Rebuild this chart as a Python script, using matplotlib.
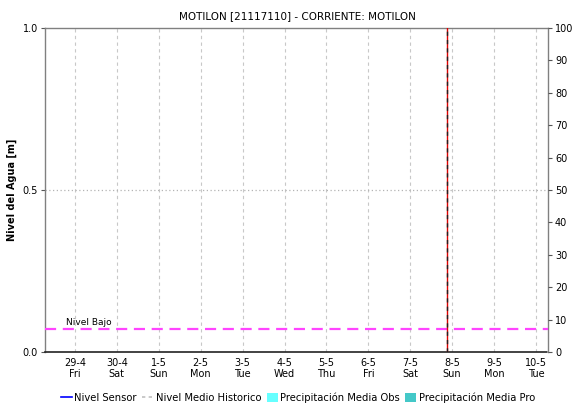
import matplotlib
matplotlib.use('Agg')
import matplotlib.pyplot as plt
from matplotlib.lines import Line2D
from matplotlib.patches import Patch

# Data (days counted from 29-4)
day_labels = ['29-4', '30-4', '1-5', '2-5', '3-5', '4-5', '5-5', '6-5', '7-5', '8-5', '9-5', '10-5']
weekday_labels = ['Fri', 'Sat', 'Sun', 'Mon', 'Tue', 'Wed', 'Thu', 'Fri', 'Sat', 'Sun', 'Mon', 'Tue']
x_start, x_end = -0.714, 11.286
nivel_bajo = 0.07
now_day = 8.87

plt.rcParams['font.family'] = ['DejaVu Sans']

fig = plt.figure(figsize=(5.72, 4.04), dpi=100)
ax = fig.add_axes([45 / 572, 52 / 404, 503 / 572, 324 / 404])

ticks = list(range(len(day_labels)))
for t in ticks:
    ax.axvline(t, color='#c8c8c8', linestyle=(0, (3, 3)), linewidth=0.8, zorder=1)
ax.axhline(0.5, color='#b4b4b4', linestyle=(0, (1, 2)), linewidth=0.9, zorder=1)

# Nivel Bajo threshold
ax.axhline(nivel_bajo, color='#ff44ff', linestyle=(0, (5, 3)), linewidth=1.6, zorder=3)
ax.text(x_start + 0.5, nivel_bajo + 0.006, 'Nivel Bajo', fontsize=6.5, va='bottom', ha='left')

# current time marker
ax.axvline(now_day, color='#dd0000', linewidth=1.0, zorder=4)
ax.axvline(now_day, color='#222222', linewidth=1.0, linestyle=(0, (3, 3)), zorder=5)

ax.set_xlim(x_start, x_end)
ax.set_ylim(0, 1.0)
ax.set_yticks([0.0, 0.5, 1.0])
ax.set_yticklabels(['0.0', '0.5', '1.0'], fontsize=7)
ax.set_xticks(ticks)
ax.set_xticklabels([f'{d}\n{w}' for d, w in zip(day_labels, weekday_labels)], fontsize=7,
                   linespacing=1.2)
ax.tick_params(axis='x', length=0, pad=4)
ax.tick_params(axis='y', length=3, width=0.8, color='#555555', pad=2)

for side in ['left', 'right', 'top']:
    ax.spines[side].set_color('#808080')
    ax.spines[side].set_linewidth(1.0)
ax.spines['bottom'].set_color('#222222')
ax.spines['bottom'].set_linestyle((0, (1, 1)))
ax.spines['bottom'].set_linewidth(1.2)

ax.set_ylabel('Nivel del Agua [m]', fontsize=7, fontweight='bold', labelpad=4)

ax2 = ax.twinx()
ax2.set_ylim(0, 100)
ax2.set_yticks(range(0, 101, 10))
ax2.set_yticklabels([str(v) for v in range(0, 101, 10)], fontsize=7)
ax2.tick_params(axis='y', length=3, width=0.8, color='#555555', pad=2)
for side in ['left', 'right', 'top', 'bottom']:
    ax2.spines[side].set_visible(False)

fig.text(297 / 572, 1 - 16 / 404, 'MOTILON [21117110] - CORRIENTE: MOTILON',
         fontsize=7.5, ha='center', va='center')

handles = [
    Line2D([0], [0], color='#0000ff', linewidth=1.2),
    Line2D([0], [0], color='#c0c0c0', linewidth=1.2, linestyle=(0, (2, 2))),
    Patch(facecolor='#66ffff', edgecolor='none'),
    Patch(facecolor='#44c8c8', edgecolor='none'),
]
labels = ['Nivel Sensor', 'Nivel Medio Historico', 'Precipitación Media Obs', 'Precipitación Media Pro']
fig.legend(handles, labels, loc='center', bbox_to_anchor=(298 / 572, 1 - 398 / 404), ncol=4,
           frameon=False, fontsize=7.2, handlelength=1.1, handletextpad=0.3, columnspacing=0.5,
           handleheight=1.0, borderpad=0)

fig.savefig('out.png', dpi=100)
